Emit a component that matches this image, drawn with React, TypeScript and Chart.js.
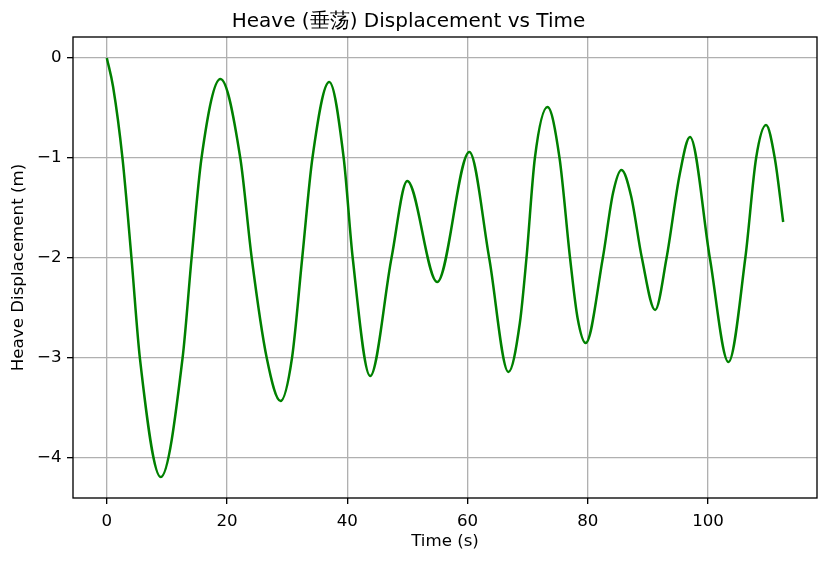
import { useEffect, useRef } from "react"
import { Chart, registerables } from "chart.js"

Chart.register(...registerables)

// Heave displacement (peaks, troughs and mid-swing points)
const timeSeconds = [
  0, 1.05, 2.6, 4.1, 5.5, 8.98, 12.6, 14.1, 15.75, 18.9,
  22.2, 24.1, 26.6, 28.9, 30.8, 32.5, 34.2, 37.0, 39.4, 40.9, 43.8,
  47.35, 49.97, 54.95, 60.3, 63.6, 66.8,
  68.7, 69.8, 71.2, 73.3, 75.3, 77.05, 78.3, 79.65, 82.5, 84.2, 85.6, 87.2, 89.0, 91.2, 93.1,
  95.3, 97.0, 100.3, 103.4, 106.2, 108.0, 109.65, 111.1, 112.5,
]
const heaveMeters = [
  0, -0.29, -1.0, -2.0, -3.0, -4.19, -3.0, -2.0, -1.0, -0.21,
  -1.0, -2.0, -3.0, -3.43, -3.0, -2.0, -1.0, -0.24, -1.0, -2.0, -3.18,
  -2.0, -1.23, -2.24, -0.94, -2.0, -3.14,
  -2.65, -2.0, -1.0, -0.49, -1.0, -2.0, -2.6, -2.85, -2.0, -1.35, -1.12, -1.38, -2.0, -2.52, -2.0,
  -1.16, -0.79, -2.0, -3.04, -2.0, -1.0, -0.67, -1.0, -1.64,
]
const xTickValues = [0, 20, 40, 60, 80, 100]
const yTickValues = [0, -1, -2, -3, -4]

const FONT = "'DejaVu Sans', sans-serif"
const minus = (v: number | string) => String(v).replace("-", "\u2212")

// matplotlib-like 5% margins
const tMin = Math.min(...timeSeconds)
const tMax = Math.max(...timeSeconds)
const hMin = Math.min(...heaveMeters)
const hMax = Math.max(...heaveMeters)
const tPad = (tMax - tMin) * 0.05
const hPad = (hMax - hMin) * 0.05

const framePlugin = {
  id: "frame",
  afterDatasetsDraw(chart: Chart) {
    const { ctx, chartArea } = chart
    ctx.save()
    ctx.strokeStyle = "#000"
    ctx.lineWidth = 1.33
    ctx.strokeRect(chartArea.left, chartArea.top, chartArea.right - chartArea.left, chartArea.bottom - chartArea.top)
    ctx.restore()
  },
}

function HeaveChart() {
  const chartRef = useRef<HTMLCanvasElement>(null)
  const chartInstance = useRef<Chart | null>(null)

  useEffect(() => {
    if (!chartRef.current) return
    if (chartInstance.current) chartInstance.current.destroy()
    const ctx = chartRef.current.getContext("2d")
    if (!ctx) return

    const points = timeSeconds.map((t, i) => ({ x: t, y: heaveMeters[i] }))

    chartInstance.current = new Chart(ctx, {
      type: "line",
      data: {
        datasets: [
          {
            label: "Heave",
            data: points,
            borderColor: "#008000",
            borderWidth: 2.5,
            pointRadius: 0,
            fill: false,
            cubicInterpolationMode: "monotone",
          },
        ],
      },
      options: {
        animation: false,
        responsive: true,
        maintainAspectRatio: false,
        layout: { padding: { left: 0, right: 11, top: 0, bottom: 0 } },
        plugins: {
          legend: { display: false },
          tooltip: { enabled: false },
          title: {
            display: true,
            text: "Heave (垂荡) Displacement vs Time",
            color: "#000",
            font: { family: FONT, size: 20, weight: "normal", lineHeight: 1.2 },
            padding: { top: 10, bottom: 3 },
          },
        },
        scales: {
          x: {
            type: "linear",
            min: tMin - tPad,
            max: tMax + tPad,
            afterBuildTicks: (scale: any) => {
              scale.ticks = xTickValues.map((v) => ({ value: v }))
            },
            afterFit: (scale: any) => {
              scale.height = 67
            },
            ticks: {
              color: "#000",
              font: { family: FONT, size: 16.67 },
              padding: 8,
              maxRotation: 0,
              callback: (v: any) => minus(v),
            },
            grid: {
              color: "#b0b0b0",
              lineWidth: 1.33,
              drawTicks: true,
              tickLength: 6,
              tickColor: "#000",
              tickWidth: 1.33,
            },
            border: { display: false },
            title: {
              display: true,
              text: "Time (s)",
              color: "#000",
              font: { family: FONT, size: 16.67, lineHeight: 1.2 },
              padding: { top: 0, bottom: 13 },
            },
          },
          y: {
            type: "linear",
            min: hMin - hPad,
            max: hMax + hPad,
            afterBuildTicks: (scale: any) => {
              scale.ticks = yTickValues.map((v) => ({ value: v }))
            },
            afterFit: (scale: any) => {
              scale.width = 73
            },
            ticks: {
              color: "#000",
              font: { family: FONT, size: 16.67 },
              padding: 5.5,
              callback: (v: any) => minus(v),
            },
            grid: {
              color: "#b0b0b0",
              lineWidth: 1.33,
              drawTicks: true,
              tickLength: 6,
              tickColor: "#000",
              tickWidth: 1.33,
            },
            border: { display: false },
            title: {
              display: true,
              text: "Heave Displacement (m)",
              color: "#000",
              font: { family: FONT, size: 16.67, lineHeight: 1.2 },
              padding: { top: 9, bottom: 0 },
            },
          },
        },
      },
      plugins: [framePlugin],
    })

    return () => {
      if (chartInstance.current) {
        chartInstance.current.destroy()
        chartInstance.current = null
      }
    }
  }, [])

  return <canvas ref={chartRef} />
}

export default function App() {
  return (
    <div style={{ position: "absolute", left: 0, top: 0, width: 828, height: 565, background: "#fff" }}>
      <HeaveChart />
    </div>
  )
}
